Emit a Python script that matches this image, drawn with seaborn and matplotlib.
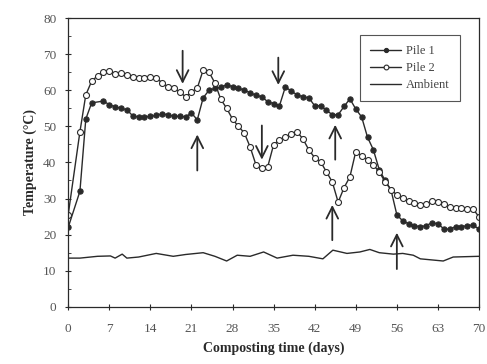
import numpy as np
import pandas as pd
import matplotlib
matplotlib.use("Agg")
import matplotlib.pyplot as plt
import seaborn as sns

# ---- data ----
pile1_days = [0, 2, 3, 4, 6, 7, 8, 9, 10, 11, 12, 13, 14, 15, 16, 17, 18, 19, 20, 21, 22,
              23, 24, 25, 26, 27, 28, 29, 30, 31, 32, 33, 34, 35, 36, 37, 38, 39, 40, 41,
              42, 43, 44, 45, 46, 47, 48, 49, 50, 51, 52, 53, 54, 55, 56, 57, 58, 59, 60,
              61, 62, 63, 64, 65, 66, 67, 68, 69, 70]
pile1_temp = [22, 32, 52, 56.5, 57, 56, 55.4, 55, 54.6, 52.9, 52.6, 52.6, 52.8, 53, 53.5, 53.2,
              52.8, 52.8, 52.6, 53.7, 51.8, 57.9, 60, 60.5, 60.8, 61.5, 61, 60.6, 60, 59.3,
              58.6, 58.2, 56.8, 56.3, 55.7, 60.9, 59.8, 58.7, 58.2, 57.9, 55.7, 55.7, 54.5,
              53.2, 53.2, 55.5, 57.6, 54.8, 52.6, 47, 43.5, 38, 35, 32.4, 25.5, 23.8, 23,
              22.5, 22.2, 22.5, 23.3, 23.0, 21.6, 21.5, 22.2, 22.2, 22.5, 22.7, 21.5]

pile2_days = list(range(0, 71))
pile2_days.remove(1)
pile2_temp = [25.5, 48.5, 58.7, 62.5, 64, 65, 65.4, 64.6, 64.8, 64.3, 63.7, 63.5, 63.4, 63.8,
              63.5, 62, 61, 60.6, 59.5, 58.2, 59.5, 60.6, 65.6, 65, 62, 57.5, 55, 52, 50,
              48.2, 44.3, 39.3, 38.5, 38.8, 44.9, 46.3, 47.1, 47.8, 48.5, 46.5, 43.5, 41.3,
              40.2, 37.4, 34.6, 29, 33, 36, 43, 41.8, 40.7, 39.3, 37.4, 34.6, 32.5, 31,
              30.2, 29.2, 28.8, 28.3, 28.5, 29.4, 29, 28.5, 27.7, 27.5, 27.4, 27.2, 27.1, 24.9]

amb_days = [0, 2, 5, 7.2, 8, 9.2, 10, 12, 15, 17.9, 20, 23, 25, 27, 28.8, 31, 33.3, 35.6,
            38.3, 41, 43.4, 45.1, 47.5, 49.7, 51.4, 53, 55.4, 57, 58.8, 60, 63.9, 65.6, 70]
amb_temp = [13.5, 13.5, 14.0, 14.1, 13.5, 14.6, 13.5, 13.8, 14.8, 14.0, 14.5, 15.0, 14.0,
            12.7, 14.3, 14.0, 15.2, 13.5, 14.3, 14.0, 13.3, 15.7, 14.8, 15.2, 15.9, 15.0,
            14.6, 14.8, 14.3, 13.3, 12.7, 13.8, 14.0]

# arrows: (day, tail temperature, tip temperature)
arrow_day = [19.5, 22, 33, 35.8, 45.5, 45, 56]
arrow_tail = [71.7, 37.0, 51.0, 69.8, 40.0, 17.7, 9.7]
arrow_tip = [61.0, 48.5, 40.0, 60.7, 51.2, 29.0, 21.3]

x_ticks = [0, 7, 14, 21, 28, 35, 42, 49, 56, 63, 70]
y_ticks = [0, 10, 20, 30, 40, 50, 60, 70, 80]

# ---- plotting ----
sns.set_theme(style="white")
plt.rcParams["font.family"] = ["Liberation Serif", "DejaVu Serif"]

fig = plt.figure(figsize=(4.87, 3.64), dpi=100)
ax = fig.add_axes([0.14, 0.157, 0.8436, 0.7935])

ink = "#2a2a2a"
df1 = pd.DataFrame({"day": pile1_days, "temp": pile1_temp})
df2 = pd.DataFrame({"day": pile2_days, "temp": pile2_temp})
df3 = pd.DataFrame({"day": amb_days, "temp": amb_temp})

sns.lineplot(data=df1, x="day", y="temp", ax=ax, color=ink, lw=1.0, marker="o",
             markersize=3.8, markerfacecolor=ink, markeredgecolor=ink, label="Pile 1")
sns.lineplot(data=df2, x="day", y="temp", ax=ax, color=ink, lw=1.0, marker="o",
             markersize=4.3, markerfacecolor="white", markeredgecolor=ink,
             markeredgewidth=0.8, label="Pile 2")
sns.lineplot(data=df3, x="day", y="temp", ax=ax, color=ink, lw=1.0, label="Ambient")

for d, t0, t1 in zip(arrow_day, arrow_tail, arrow_tip):
    ax.annotate("", xy=(d, t1), xytext=(d, t0),
                arrowprops=dict(arrowstyle="->,head_length=0.7,head_width=0.35",
                                color=ink, lw=1.3))

ax.set_xlim(0, 70)
ax.set_ylim(0, 80)
ax.set_xticks(x_ticks)
ax.set_yticks(y_ticks)
ax.set_yticks(np.arange(0, 81, 5), minor=True)
ax.tick_params(axis="x", which="major", pad=9)
ax.tick_params(axis="y", which="major", pad=6)
ax.tick_params(axis="both", which="major", direction="inout", length=5, width=0.8,
               colors=ink, labelsize=9.5, labelcolor="#555555")
ax.tick_params(axis="y", which="minor", direction="in", length=2.5, width=0.6, colors=ink,
               left=True)
ax.tick_params(left=True, bottom=True)
for s in ax.spines.values():
    s.set_color(ink)
    s.set_linewidth(0.9)

ax.set_xlabel("Composting time (days)", fontsize=10, fontweight="bold", color=ink, labelpad=5)
ax.set_ylabel("Temperature (°C)", fontsize=10, fontweight="bold", color=ink, labelpad=4)

leg = ax.legend(loc="upper right", bbox_to_anchor=(0.954, 0.941), borderaxespad=0,
                fontsize=9, frameon=True, fancybox=False, edgecolor=ink, handlelength=2.5,
                borderpad=0.8, labelspacing=0.4, handletextpad=0.4, markerscale=0.8)
leg.get_frame().set_linewidth(0.8)
for t in leg.get_texts():
    t.set_color("#444444")

fig.savefig("out.png", dpi=100)
